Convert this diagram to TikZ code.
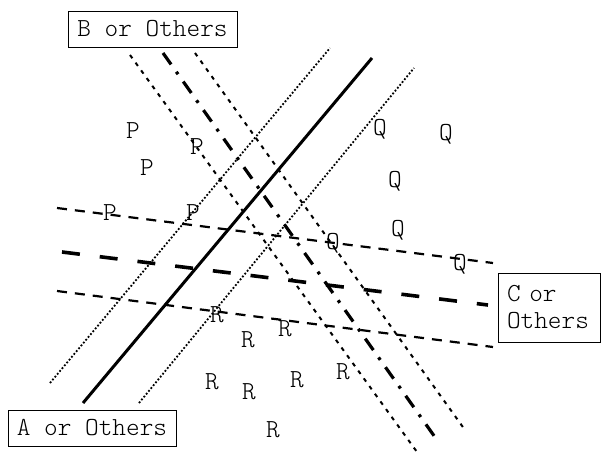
\documentclass[tikz,border=0pt]{standalone}
\begin{document}
\begin{tikzpicture}[x=1pt,y=-1pt,
  lbl/.style={font=\ttfamily\fontseries{l}\fontsize{26}{29}\selectfont, inner sep=0pt, text height=15.5pt, text depth=0pt, anchor=center},
  boxlbl/.style={draw, line width=0.9pt, font=\ttfamily\fontseries{l}\fontsize{26}{27}\selectfont, inner sep=0pt},
  solidln/.style={line width=3pt},
  fdot/.style={line width=1.8pt, dash pattern=on 1.8pt off 1.9pt},
  sdash/.style={line width=2pt, dash pattern=on 4pt off 5.5pt},
  ddot/.style={line width=3.2pt, dash pattern=on 14pt off 9pt on 3pt off 9pt},
  mdash/.style={line width=2.2pt, dash pattern=on 10pt off 8pt},
  tdash/.style={line width=3.6pt, dash pattern=on 18pt off 20pt}]
\useasboundingbox (0,0) rectangle (601,454);
% boxes
\node[boxlbl, minimum width=169pt, minimum height=36pt] (B) at (152.5,29) {B or Others};
\node[boxlbl, minimum width=168pt, minimum height=36pt] (A) at (92,428) {A or Others};
\node[boxlbl, minimum width=102pt, minimum height=69pt, align=left, text width=84pt] (C) at (549,307.5) {C or\\Others};
% endpoints
\coordinate (a1s) at (83,403);  \coordinate (a1e) at (372,58);
\coordinate (a2s) at (50,383);  \coordinate (a2e) at (330,48);
\coordinate (a3s) at (139,403); \coordinate (a3e) at (414,68);
\coordinate (b1s) at (130,55);  \coordinate (b1e) at (417,452);
\coordinate (b2s) at (163,53);  \coordinate (b2e) at (437,440);
\coordinate (b3s) at (195,53);  \coordinate (b3e) at (465,430);
\coordinate (c1s) at (57,208);  \coordinate (c1e) at (493,263);
\coordinate (c2s) at (62,252);  \coordinate (c2e) at (488,305);
\coordinate (c3s) at (57,291);  \coordinate (c3e) at (493,347);
% lines
\draw[solidln] (a1s) -- (a1e);
\draw[fdot] (a2s) -- (a2e);
\draw[fdot] (a3s) -- (a3e);
\draw[sdash] (b1s) -- (b1e);
\draw[ddot] (b2s) -- (b2e);
\draw[sdash] (b3s) -- (b3e);
\draw[mdash] (c1s) -- (c1e);
\draw[tdash] (c2s) -- (c2e);
\draw[mdash] (c3s) -- (c3e);
% letters
\node[lbl] (p1) at (133,131) {P};
\node[lbl] (p2) at (197,147) {P};
\node[lbl] (p3) at (147,168) {P};
\node[lbl] (p4) at (110,213) {P};
\node[lbl] (p5) at (193,213) {P};
\node[lbl] (q1) at (380,128) {Q};
\node[lbl] (q2) at (446,133) {Q};
\node[lbl] (q3) at (395,180) {Q};
\node[lbl] (q4) at (398,229) {Q};
\node[lbl] (q5) at (333,242) {Q};
\node[lbl] (q6) at (460,263) {Q};
\node[lbl] (r1) at (217,315) {R};
\node[lbl] (r2) at (248,340) {R};
\node[lbl] (r3) at (285,329) {R};
\node[lbl] (r4) at (343,372) {R};
\node[lbl] (r5) at (212,382) {R};
\node[lbl] (r6) at (249,392) {R};
\node[lbl] (r7) at (297,380) {R};
\node[lbl] (r8) at (273,430) {R};
\end{tikzpicture}
\end{document}
